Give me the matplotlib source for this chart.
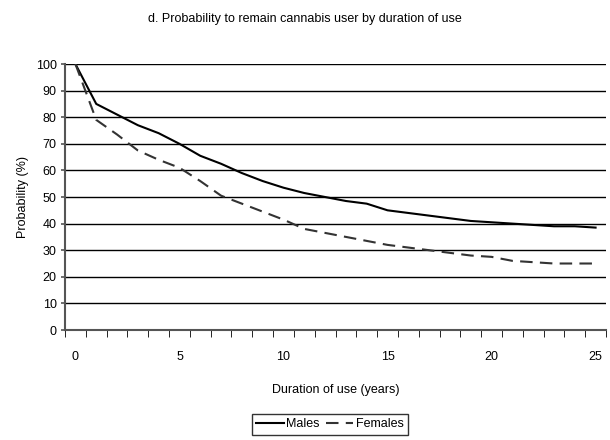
import matplotlib
matplotlib.use("Agg")
import matplotlib.pyplot as plt
from matplotlib.ticker import MultipleLocator, FixedLocator

plt.rcParams['font.family'] = ['Liberation Sans', 'DejaVu Sans']

years = list(range(0, 26))
males = [100, 85, 81, 77, 74, 70, 65.5, 62.5, 59, 56, 53.5, 51.5, 50, 48.5, 47.5,
         45, 44, 43, 42, 41, 40.5, 40, 39.5, 39, 39, 38.5]
females = [100, 79, 73.5, 67.5, 64, 61, 56, 50.5, 47.5, 44.5, 41.5, 38, 36.5, 35, 33.5,
           32, 31, 30, 29, 28, 27.5, 26, 25.5, 25, 25, 25]
xlabels = [0, 5, 10, 15, 20, 25]

fig = plt.figure(figsize=(6.1, 4.4), dpi=100)
ax = fig.add_axes([0.1066, 0.25, 0.8868, 0.6045])

ax.plot(years, males, color='black', lw=1.5, label='Males')
ax.plot(years, females, color='#333333', lw=1.5, ls=(0, (6, 3.5)), label='Females')

ax.set_xlim(-0.5, 25.5)
ax.set_ylim(0, 100)
ax.yaxis.set_major_locator(MultipleLocator(10))
ax.xaxis.set_major_locator(FixedLocator(xlabels))
ax.xaxis.set_minor_locator(FixedLocator([i - 0.5 for i in range(0, 27)]))
ax.grid(axis='y', color='black', lw=1)
ax.set_axisbelow(True)
for s in ['top', 'right']:
    ax.spines[s].set_visible(False)
for s in ['left', 'bottom']:
    ax.spines[s].set_color('#555555')
    ax.spines[s].set_linewidth(1.5)
ax.tick_params(labelsize=9, color='#555555', width=1.2)
ax.tick_params(axis='x', which='major', length=0, pad=15)
ax.tick_params(axis='x', which='minor', direction='out', length=5)
ax.tick_params(axis='y', direction='out', length=3, pad=3)

ax.set_xlabel('Duration of use (years)', fontsize=9, labelpad=15)
ax.set_ylabel('Probability (%)', fontsize=9, labelpad=5)
fig.suptitle('d. Probability to remain cannabis user by duration of use', fontsize=9, y=0.97)

fig.legend(loc='center', bbox_to_anchor=(0.541, 0.036), ncol=2, fontsize=9, frameon=True,
           fancybox=False, edgecolor='black', handlelength=2.2, columnspacing=0.5,
           handletextpad=0.2, borderpad=0.35, borderaxespad=0)

fig.savefig('out.png', dpi=100)
